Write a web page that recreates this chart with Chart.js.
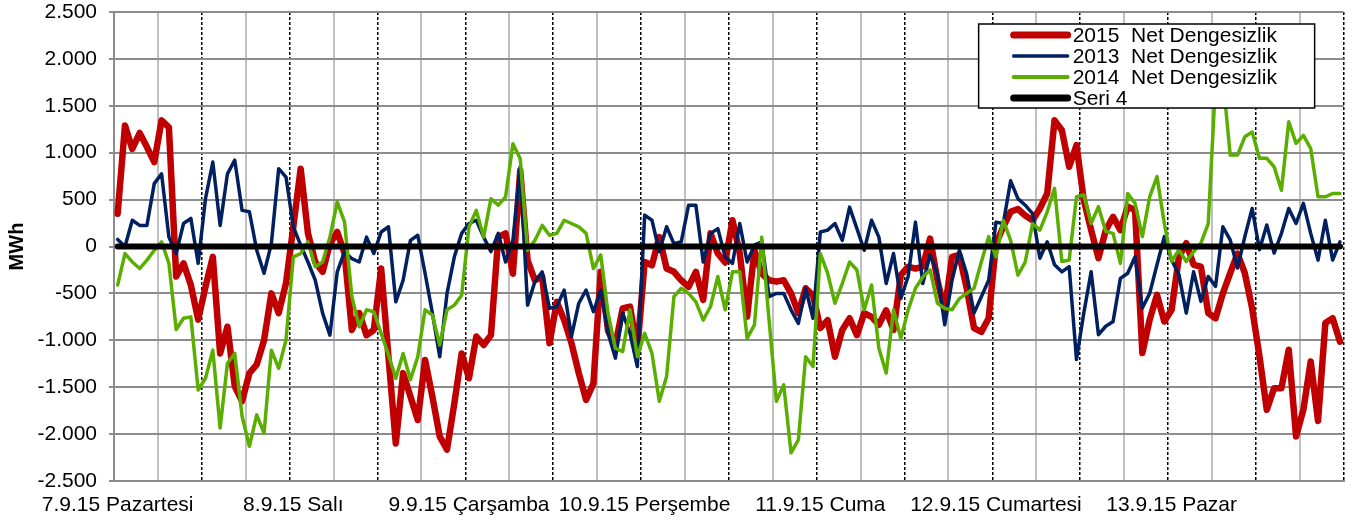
<!DOCTYPE html>
<html lang="tr">
<head>
<meta charset="utf-8">
<title>Net Dengesizlik</title>
<script src="https://cdn.jsdelivr.net/npm/chart.js@4.4.0/dist/chart.umd.min.js"></script>
<style>
    body { margin: 0; background: #fff; }
    #wrap { width: 1352px; height: 524px; }
</style>
</head>
<body>
<div id="wrap"><canvas id="dengeChart" width="1352" height="524"></canvas></div>
<script>
// Gün etiketleri (her 24 saatte bir)
const dayLabels = ['7.9.15 Pazartesi', '8.9.15 Salı', '9.9.15 Çarşamba', '10.9.15 Perşembe',
    '11.9.15 Cuma', '12.9.15 Cumartesi', '13.9.15 Pazar'];

// Y ekseni
const yMin = -2500;
const yMax = 2500;
const yStep = 500;

// Saatlik net dengesizlik (MWh)
const net2015 = [
    350, 1290, 1040, 1210, 1060, 900, 1345, 1270, -320, -180, -410, -780, -430, -110, -1140, -855, -1490, -1650, -1350, -1260, -1000, -500, -710, -390,
    210, 830, 140, -165, -270, 30, 155, -75, -890, -710, -945, -890, -235, -1175, -2100, -1350, -1600, -1850, -1210, -1600, -2025, -2165, -1670, -1140,
    -1405, -960, -1050, -945, 100, 140, -290, 810, -145, -360, -320, -1030, -590, -785, -1030, -1350, -1635, -1460, -270, -900, -1050, -660, -640, -1100,
    -165, -200, 100, -235, -270, -360, -430, -270, -570, 140, -75, -170, 280, -75, -750, -40, -290, -360, -375, -360, -500, -710, -445, -520,
    -870, -785, -1175, -890, -765, -945, -710, -750, -835, -680, -890, -305, -215, -235, -215, 85, -360, -680, -110, -90, -445, -870, -910, -765,
    30, 210, 370, 400, 330, 280, 405, 565, 1345, 1240, 850, 1080, 495, 175, -125, 175, 315, 175, 425, 390, -1135, -780, -515, -800,
    -675, -110, 35, -195, -215, -710, -765, -500, -285, -75, -285, -660, -1170, -1740, -1510, -1510, -1100, -2025, -1740, -1225, -1860, -815, -765, -1015
];
const net2013 = [
    75, 0, 280, 225, 225, 670, 775, 100, -75, 245, 300, -180, 510, 900, 225, 775, 920, 385, 370, -40, -285, 30, 830, 740,
    210, 15, -165, -360, -710, -945, -270, -55, -130, -165, 100, -75, 155, 210, -590, -360, 65, 120, -285, -710, -1175, -500, -110, 140,
    245, 280, 100, -55, 140, -165, 65, 850, -625, -375, -270, -660, -640, -465, -960, -605, -465, -695, -465, -925, -1190, -710, -925, -1280,
    335, 280, -55, 210, 30, 50, 440, 440, -165, 140, 190, -110, -180, 245, -165, 15, 50, -535, -500, -500, -675, -820, -445, -765,
    155, 175, 245, 65, 420, 190, -40, 280, 100, -395, -75, -555, -320, 260, -395, -90, -290, -835, -360, -40, -290, -710, -535, -360,
    260, 245, 700, 510, 440, 350, -125, 50, -195, -270, -215, -1205, -710, -270, -940, -850, -800, -340, -285, -110, -655, -500, -195, 105,
    -145, -300, -710, -270, -585, -320, -425, 210, 70, -230, 105, 405, -35, 230, -70, 140, 405, 245, 460, 140, -145, 280, -145, 50
];
const net2014 = [
    -410, -75, -165, -235, -145, -40, 50, -180, -885, -765, -750, -1530, -1405, -1105, -1935, -1245, -1140, -1810, -2130, -1795, -1990, -1105, -1300, -995,
    -110, -75, 50, -215, -165, 100, 475, 260, -535, -855, -675, -695, -925, -1155, -1405, -1140, -1420, -1175, -675, -730, -1050, -675, -625, -520,
    210, 385, 100, 510, 440, 530, 1095, 935, -40, 65, 225, 120, 140, 280, 245, 210, 140, -235, -90, -710, -1085, -1120, -675, -1175,
    -925, -1140, -1650, -1385, -535, -445, -500, -590, -785, -640, -320, -675, -270, -270, -980, -835, 100, -785, -1650, -1475, -2200, -2060, -1175, -1280,
    -75, -285, -605, -395, -165, -250, -675, -410, -1085, -1350, -675, -980, -675, -445, -325, -250, -605, -660, -675, -555, -500, -445, -165, 105,
    -110, 280, 65, -305, -165, 245, 175, 370, 620, -160, -145, 530, 550, 245, 425, 160, 140, -180, 565, 460, 105, 530, 745, 245,
    -160, -35, -160, -55, 35, 245, 1750, 1800, 975, 975, 1170, 1220, 940, 940, 850, 600, 1330, 1100, 1185, 1045, 530, 530, 565, 565
];
const seri4 = [
    0, 0, 0, 0, 0, 0, 0, 0, 0, 0, 0, 0, 0, 0, 0, 0, 0, 0, 0, 0, 0, 0, 0, 0,
    0, 0, 0, 0, 0, 0, 0, 0, 0, 0, 0, 0, 0, 0, 0, 0, 0, 0, 0, 0, 0, 0, 0, 0,
    0, 0, 0, 0, 0, 0, 0, 0, 0, 0, 0, 0, 0, 0, 0, 0, 0, 0, 0, 0, 0, 0, 0, 0,
    0, 0, 0, 0, 0, 0, 0, 0, 0, 0, 0, 0, 0, 0, 0, 0, 0, 0, 0, 0, 0, 0, 0, 0,
    0, 0, 0, 0, 0, 0, 0, 0, 0, 0, 0, 0, 0, 0, 0, 0, 0, 0, 0, 0, 0, 0, 0, 0,
    0, 0, 0, 0, 0, 0, 0, 0, 0, 0, 0, 0, 0, 0, 0, 0, 0, 0, 0, 0, 0, 0, 0, 0,
    0, 0, 0, 0, 0, 0, 0, 0, 0, 0, 0, 0, 0, 0, 0, 0, 0, 0, 0, 0, 0, 0, 0, 0
];

document.addEventListener("DOMContentLoaded", function () {
    // 168 saatlik kategori, gün adı sadece günün ilk saatinde
    const hours = [];
    dayLabels.forEach(function (day) {
        for (let h = 0; h < 24; h++) {
            hours.push(h === 0 ? day : '');
        }
    });

    // 2.500 / -1.000 biçimi
    function formatTr(v) {
        const s = Math.abs(v).toString().replace(/\B(?=(\d{3})+(?!\d))/g, '.');
        return (v < 0 ? '-' : '') + s;
    }

    const font = "'Liberation Sans', Arial, sans-serif";

    // Grafik içindeki lejant kutusu
    const legendBox = {
        id: 'legendBox',
        afterDraw(chart) {
            const ctx = chart.ctx;
            const area = chart.chartArea;
            const x = area.right - 365;
            const y = area.top + 12;
            const w = 336;
            const h = 84;
            ctx.save();
            ctx.fillStyle = '#fff';
            ctx.fillRect(x, y, w, h);
            ctx.lineWidth = 1.5;
            ctx.strokeStyle = '#000';
            ctx.strokeRect(x, y, w, h);
            ctx.font = '21px ' + font;
            ctx.textBaseline = 'middle';
            ctx.textAlign = 'left';
            chart.data.datasets.forEach(function (ds, i) {
                const cy = y + 11 + i * 21;
                ctx.beginPath();
                ctx.lineCap = 'round';
                ctx.lineWidth = ds.legendWidth;
                ctx.strokeStyle = ds.borderColor;
                ctx.moveTo(x + 35, cy);
                ctx.lineTo(x + 89, cy);
                ctx.stroke();
                ctx.fillStyle = '#000';
                ctx.fillText(ds.label, x + 94, cy + 1);
            });
            ctx.restore();
        }
    };

    // Gridler: 6 saatte bir gri, 12 saatte bir kesikli siyah
    function isDashed(i) {
        return i === undefined || (i > 0 && i % 12 === 0);
    }

    const ctx = document.getElementById('dengeChart').getContext('2d');
    new Chart(ctx, {
        type: 'line',
        data: {
            labels: hours,
            datasets: [
                { label: '2015  Net Dengesizlik', data: net2015, borderColor: '#c00000', borderWidth: 6.5, legendWidth: 7, order: 4 },
                { label: '2013  Net Dengesizlik', data: net2013, borderColor: '#002060', borderWidth: 3.5, legendWidth: 3.5, order: 3 },
                { label: '2014  Net Dengesizlik', data: net2014, borderColor: '#5aae00', borderWidth: 3.5, legendWidth: 4, order: 2 },
                { label: 'Seri 4', data: seri4, borderColor: '#000000', borderWidth: 6, legendWidth: 7, order: 1 },
            ].map(function (ds) {
                return Object.assign({
                    pointRadius: 0,
                    tension: 0,
                    fill: false,
                    borderCapStyle: 'round',
                    borderJoinStyle: 'round',
                }, ds);
            }),
        },
        options: {
            responsive: false,
            animation: false,
            devicePixelRatio: 1,
            layout: { padding: { left: 5, right: 5, top: 0, bottom: 0 } },
            plugins: {
                legend: { display: false },
                tooltip: { enabled: false },
            },
            scales: {
                x: {
                    offset: true,
                    afterFit: function (scale) { scale.height = 43; },
                    grid: {
                        offset: true,
                        drawTicks: false,
                        lineWidth: function (c) {
                            return isDashed(c.index) ? 1.5 : 2;
                        },
                        color: function (c) {
                            const i = c.index;
                            if (i === undefined) return '#000';
                            if (i === 0 || i % 6 !== 0) return 'rgba(0,0,0,0)';
                            return (i / 6) % 2 ? '#c0c0c0' : '#000';
                        },
                    },
                    border: {
                        color: '#8c8c8c',
                        width: 2,
                        dash: function (c) {
                            return isDashed(c.index) ? [3, 2] : [];
                        },
                    },
                    ticks: {
                        autoSkip: false,
                        maxRotation: 0,
                        minRotation: 0,
                        padding: 12,
                        color: '#000',
                        font: { family: font, size: 21 },
                    },
                },
                y: {
                    min: yMin,
                    max: yMax,
                    afterFit: function (scale) {
                        scale.width = 109;
                        scale.paddingTop = 12;
                        scale.paddingBottom = 12;
                    },
                    grid: {
                        color: '#8c8c8c',
                        tickColor: '#8c8c8c',
                        lineWidth: 2,
                        tickLength: 5,
                    },
                    border: { color: '#8c8c8c', width: 2 },
                    ticks: {
                        stepSize: yStep,
                        padding: 12,
                        color: '#000',
                        font: { family: font, size: 21 },
                        callback: function (v) { return formatTr(v); },
                    },
                    title: {
                        display: true,
                        text: 'MWh',
                        color: '#000',
                        padding: { top: 0, bottom: 0 },
                        font: { family: font, size: 20, weight: 'bold' },
                    },
                },
            },
        },
        plugins: [legendBox],
    });
});
</script>
</body>
</html>
